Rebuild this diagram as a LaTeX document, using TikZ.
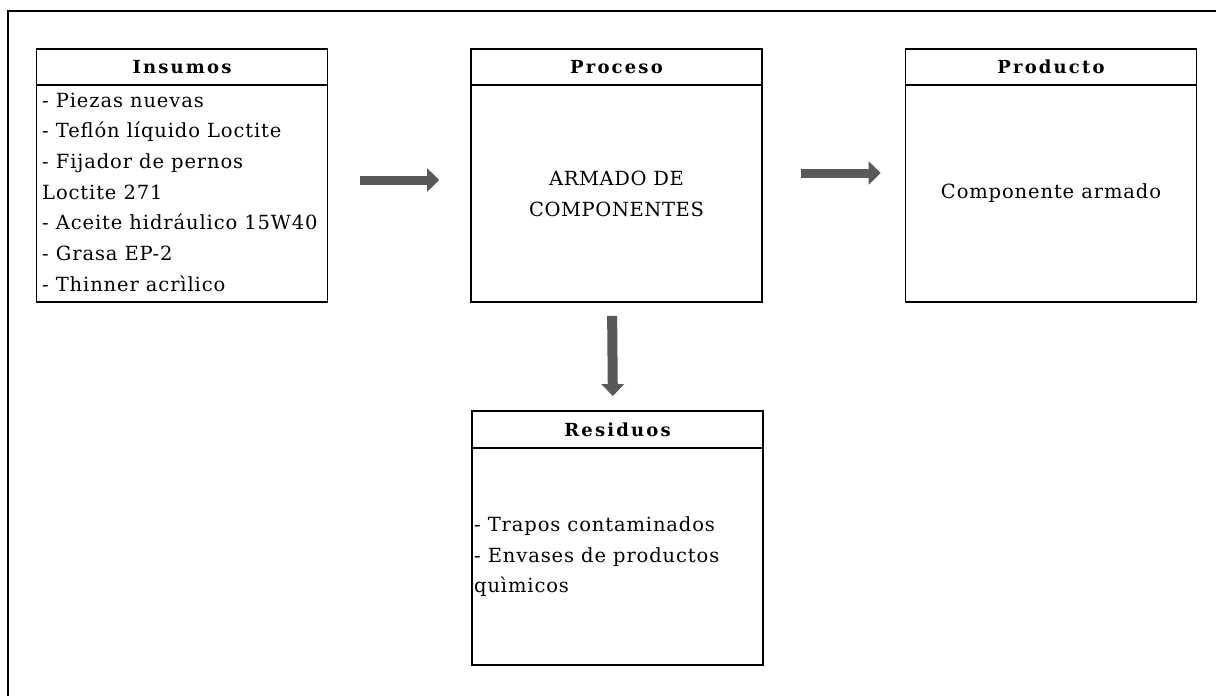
\documentclass[tikz,border=0pt]{standalone}
\usepackage{fontspec}
\setmainfont{DejaVu Serif}
\usetikzlibrary{arrows.meta}
\definecolor{flowgray}{HTML}{595959}
\begin{document}
\begin{tikzpicture}[x=1pt,y=-1pt,
  box/.style={draw=black,line width=1.8pt,minimum width=291pt,inner sep=0pt},
  headbox/.style={box,minimum height=36pt,
    font=\fontsize{18}{21}\selectfont\bfseries\addfontfeature{LetterSpace=12}},
  body/.style={font=\fontsize{19.5}{30.7}\selectfont\addfontfeature{LetterSpace=4.5},align=left,inner sep=0pt},
  flow/.style={draw=flowgray,line width=9pt,-{Triangle[width=23pt,length=12pt]}}]
\useasboundingbox (0,0) rectangle (1216,696);
% outer frame (only the top and left edges fall inside the page)
\draw[line width=1.8pt] (8,700) -- (8,11) -- (1220,11);

% Insumos
\node[box,minimum height=253pt] (ins) at (182,175.5) {};
\node[headbox,anchor=north] (insh) at (ins.north) {Insumos};
\node[body,anchor=north west] (insl) at (42,92.5) {- Piezas nuevas\\- Teflón líquido Loctite\\- Fijador de pernos\\Loctite 271\\- Aceite hidráulico 15W40\\- Grasa EP-2\\- Thinner acrìlico};

% Proceso
\node[box,minimum height=253pt] (proc) at (616.5,175.5) {};
\node[headbox,anchor=north] (proch) at (proc.north) {Proceso};
\node[body,align=center,font=\fontsize{19.5}{31}\selectfont\addfontfeature{LetterSpace=3}] (procl) at (616.5,194) {ARMADO DE\\COMPONENTES};

% Producto
\node[box,minimum height=253pt] (prod) at (1051,175.5) {};
\node[headbox,anchor=north] (prodh) at (prod.north) {Producto};
\node[body] (prodl) at (1051,193) {Componente armado};

% Residuos
\node[box,minimum height=254pt] (res) at (617.5,538) {};
\node[headbox,anchor=north,minimum height=37pt] (resh) at (res.north) {Residuos};
\node[body,anchor=north west] (resl) at (474,516.5) {- Trapos contaminados\\- Envases de productos\\quìmicos};

% flow arrows
\draw[flow,shorten <=32pt,shorten >=31pt] ([yshift=-4.5pt]ins.east) -- ([yshift=-4.5pt]proc.west);
\draw[flow,shorten <=38pt,shorten >=24pt] ([yshift=2.5pt]proc.east) -- ([yshift=2.5pt]prod.west);
\draw[flow,line width=10pt,-{Triangle[width=22pt,length=12pt]},shorten <=13pt,shorten >=14pt] ([xshift=-4.5pt]proc.south) -- ([xshift=-4.5pt]res.north);
\end{tikzpicture}
\end{document}
